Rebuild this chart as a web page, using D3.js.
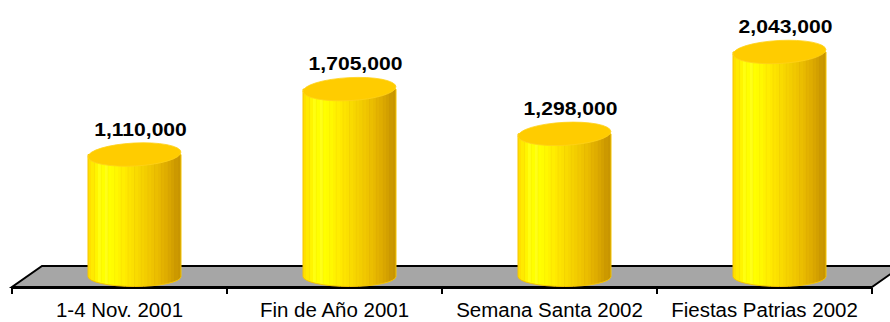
<!DOCTYPE html>
<html>
<head>
<meta charset="utf-8">
<script src="https://cdn.jsdelivr.net/npm/d3@7/dist/d3.min.js"></script>
<style>
  html, body { margin: 0; padding: 0; background: #fff; }
  svg { display: block; }
  text { font-family: Arial, "Liberation Sans", sans-serif; }
</style>
</head>
<body>
<svg id="chart" width="890" height="322"></svg>
<script>
// Visitors per holiday period
const categories = ["1-4 Nov. 2001", "Fin de Año 2001", "Semana Santa 2002", "Fiestas Patrias 2002"];
const values = [1110000, 1705000, 1298000, 2043000];
const valueLabels = ["1,110,000", "1,705,000", "1,298,000", "2,043,000"];

const svg = d3.select("#chart");

// 3D floor geometry: front edge and depth offset
const frontY = 287, depthX = 30, depthY = -21;
const x = d3.scaleBand().domain(categories).range([12, 872]).paddingInner(0).paddingOuter(0);
const floorMidY = frontY + depthY / 2;
const y = d3.scaleLinear().domain([0, 2500000]).range([floorMidY, floorMidY - 274.75]);

// Floor (gray parallelogram)
const x0 = x.range()[0], x1 = x.range()[1];
svg.append("path")
  .attr("d", `M${x0},${frontY} L${x1},${frontY} L${x1 + depthX},${frontY + depthY} L${x0 + depthX},${frontY + depthY} Z`)
  .attr("fill", "#a6a6a6")
  .attr("stroke", "#000")
  .attr("stroke-width", 2)
  .attr("stroke-linejoin", "miter");

// Banded side gradient for the cylinders
const defs = svg.append("defs");
const grad = defs.append("linearGradient").attr("id", "side").attr("x1", 0).attr("x2", 1).attr("y1", 0).attr("y2", 0);
const bandColors = [
  "#ffe000", "#ffea00", "#fff500", "#ffff10", "#ffff00", "#ffff18", "#ffff00", "#fffc00",
  "#fff800", "#fff200", "#ffee00", "#ffe900", "#fde400", "#fbe000", "#f9db00", "#f7d600",
  "#f5d200", "#f3cd00", "#f1c800", "#eec300", "#ebbe00", "#e8b900", "#e3b200", "#dfad00",
  "#d9a600", "#d3a000", "#cc9900", "#c89500"
];
const nB = bandColors.length;
bandColors.forEach((c, i) => {
  grad.append("stop").attr("offset", i / nB).attr("stop-color", c);
  grad.append("stop").attr("offset", (i + 1) / nB).attr("stop-color", c);
});

const rx = 46.5, ryBottom = 10, ryTop = 11.5;

const bars = svg.append("g").selectAll("g").data(categories).join("g");

bars.each(function(c, i) {
  const g = d3.select(this);
  const cx = x(c) + x.bandwidth() / 2 + depthX / 2;
  const yb = y(0), yt = y(values[i]);
  // side surface: rectangle closed by the lower half of the base ellipse
  g.append("path")
    .attr("d", `M${cx - rx},${yt} L${cx - rx},${yb} A${rx},${ryBottom} 0 0 0 ${cx + rx},${yb} L${cx + rx},${yt} Z`)
    .attr("fill", "url(#side)")
    .attr("stroke", "#f5c400")
    .attr("stroke-width", 1);
  // faint vertical seams
  for (let k = 1; k < 14; k++) {
    const t = k / 14;
    const sx = cx - rx + t * 2 * rx;
    const dy = ryBottom * Math.sqrt(Math.max(0, 1 - Math.pow((sx - cx) / rx, 2)));
    g.append("line")
      .attr("x1", sx).attr("x2", sx)
      .attr("y1", yt + 2).attr("y2", yb + dy - 1)
      .attr("stroke", "#c89a00").attr("stroke-opacity", 0.12).attr("stroke-width", 0.8);
  }
  // top cap
  g.append("ellipse")
    .attr("cx", cx).attr("cy", yt)
    .attr("rx", rx).attr("ry", ryTop)
    .attr("transform", `rotate(-3, ${cx}, ${yt})`)
    .attr("fill", "#ffcc00")
    .attr("stroke", "#ffd21a")
    .attr("stroke-width", 0.8);
  // value label
  g.append("text")
    .attr("transform", `translate(${cx + 6},${yt - 19}) scale(1.11,1)`)
    .attr("text-anchor", "middle")
    .attr("font-size", 19)
    .attr("font-weight", "bold")
    .attr("fill", "#000")
    .text(valueLabels[i]);
});

// Category axis along the front floor edge
const axisY = frontY + 1;
const axis = svg.append("g");
axis.append("line").attr("x1", x0).attr("x2", x1).attr("y1", axisY).attr("y2", axisY)
  .attr("stroke", "#000").attr("stroke-width", 2);
const bounds = categories.map(c => x(c)).concat([x1]);
axis.selectAll("line.tick").data(bounds).join("line")
  .attr("class", "tick")
  .attr("x1", d => d).attr("x2", d => d)
  .attr("y1", axisY).attr("y2", axisY + 6)
  .attr("stroke", "#000").attr("stroke-width", 2);
axis.selectAll("text").data(categories).join("text")
  .attr("transform", d => `translate(${x(d) + x.bandwidth() / 2},317) scale(1.05,1)`)
  .attr("text-anchor", "middle")
  .attr("font-size", 19.5)
  .attr("fill", "#000")
  .text(d => d);
</script>
</body>
</html>
